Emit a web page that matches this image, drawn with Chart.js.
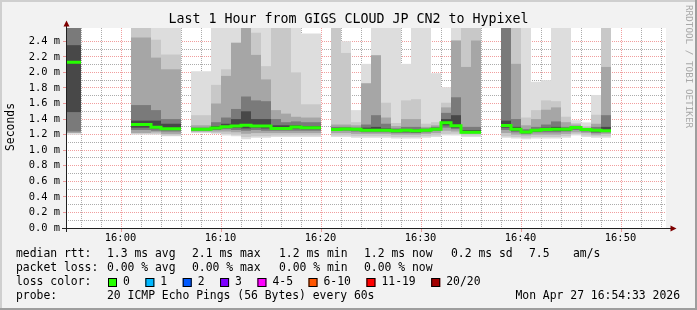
<!DOCTYPE html>
<html>
<head>
<meta charset="utf-8">
<script src="https://cdn.jsdelivr.net/npm/chart.js@4/dist/chart.umd.min.js"></script>
<style>
  html, body { margin: 0; padding: 0; background: #f2f2f2; }
  canvas { display: block; }
</style>
</head>
<body>
<canvas id="chart" width="697" height="310"></canvas>
<script>
// one column per minute, offset in minutes from 16:00
const minutes = [-6, -5, -4, -3, -2, -1, 0, 1, 2, 3, 4, 5, 6, 7, 8, 9, 10, 11, 12, 13, 14, 15, 16, 17, 18, 19, 20,
  21, 22, 23, 24, 25, 26, 27, 28, 29, 30, 31, 32, 33, 34, 35, 36, 37, 38, 39, 40, 41, 42, 43, 44, 45, 46, 47, 48];

// median rtt (ms)
const median = [2.13, 2.13, null, null, null, null, null,
  1.33, 1.33, 1.294, 1.277, 1.277, null,
  1.27, 1.27, 1.285, 1.30, 1.31, 1.322, 1.31, 1.31, 1.28, 1.28, 1.297, 1.288, 1.288, null,
  1.267, 1.272, 1.27, 1.258, 1.258, 1.258, 1.25, 1.256, 1.25, 1.258, 1.27, 1.352, 1.313, 1.232, 1.232, null, null,
  1.318, 1.27, 1.234, 1.258, 1.266, 1.268, 1.27, 1.293, 1.266, 1.258, 1.25];

// smoke bands (ms), outer band first: low / high edge
const minRtt = [1.20, 1.20, null, null, null, null, null,
  1.20, 1.20, 1.20, 1.18, 1.18, null,
  1.22, 1.22, 1.21, 1.19, 1.18, 1.14, 1.16, 1.16, 1.17, 1.17, 1.17, 1.17, 1.17, null,
  1.17, 1.17, 1.16, 1.16, 1.16, 1.16, 1.15, 1.15, 1.15, 1.16, 1.17, 1.19, 1.19, 1.17, 1.17, null, null,
  1.16, 1.15, 1.14, 1.15, 1.15, 1.15, 1.16, 1.19, 1.17, 1.16, 1.16];
const maxRtt = [2.7, 2.7, null, null, null, null, null,
  2.7, 2.7, 2.7, 2.7, 2.7, null,
  2.015, 2.015, 2.7, 2.7, 2.7, 2.7, 2.7, 2.7, 2.7, 2.7, 2.7, 2.50, 2.50, null,
  2.7, 2.40, 1.515, 2.11, 2.7, 2.7, 2.7, 2.11, 2.7, 2.7, 1.99, 1.81, 2.7, 2.7, 2.7, null, null,
  2.7, 2.7, 2.7, 1.88, 1.90, 2.7, 2.7, 1.386, 1.357, 1.71, 2.7];

const lo2 = [1.22, 1.22, null, null, null, null, null,
  1.21, 1.21, 1.21, 1.19, 1.19, null,
  1.23, 1.23, 1.22, 1.21, 1.20, 1.17, 1.18, 1.18, 1.19, 1.19, 1.19, 1.19, 1.19, null,
  1.19, 1.19, 1.18, 1.18, 1.18, 1.18, 1.17, 1.17, 1.17, 1.18, 1.19, 1.21, 1.21, 1.19, 1.19, null, null,
  1.18, 1.17, 1.16, 1.17, 1.17, 1.17, 1.18, 1.21, 1.19, 1.18, 1.18];
const hi2 = [2.7, 2.7, null, null, null, null, null,
  2.7, 2.7, 2.42, 2.23, 2.23, null,
  1.45, 1.45, 1.84, 2.04, 2.38, 2.7, 2.51, 2.08, 2.7, 2.7, 2.0, 1.59, 1.59, null,
  2.7, 2.25, 1.36, 1.86, 2.22, 1.61, 1.35, 1.64, 1.656, 1.34, 1.36, 1.61, 2.41, 2.7, 2.7, null, null,
  2.7, 2.7, 1.42, 1.515, 1.64, 1.63, 1.43, 1.35, 1.31, 1.455, 2.7];

const lo3 = [1.22, 1.22, null, null, null, null, null,
  1.22, 1.22, 1.23, 1.21, 1.21, null,
  1.24, 1.24, 1.24, 1.24, 1.23, 1.21, 1.22, 1.22, 1.22, 1.22, 1.22, 1.22, 1.22, null,
  1.22, 1.22, 1.21, 1.21, 1.21, 1.21, 1.20, 1.20, 1.20, 1.21, 1.22, 1.25, 1.24, 1.21, 1.21, null, null,
  1.22, 1.20, 1.19, 1.20, 1.20, 1.20, 1.21, 1.23, 1.22, 1.20, 1.21];
const hi3 = [2.7, 2.7, null, null, null, null, null,
  2.45, 2.45, 2.19, 2.04, 2.04, null,
  1.32, 1.32, 1.60, 1.955, 2.38, 2.7, 2.225, 1.91, 1.515, 1.47, 1.43, 1.42, 1.42, null,
  1.33, 1.33, 1.32, 1.86, 2.22, 1.42, 1.31, 1.40, 1.40, 1.30, 1.32, 1.55, 2.41, 2.07, 2.41, null, null,
  2.7, 2.11, 1.32, 1.40, 1.52, 1.55, 1.36, 1.33, 1.29, 1.34, 2.07];

const lo4 = [1.24, 1.24, null, null, null, null, null,
  1.26, 1.26, 1.25, 1.24, 1.24, null,
  1.25, 1.25, 1.26, 1.27, 1.26, 1.25, 1.26, 1.25, 1.25, 1.25, 1.25, 1.25, 1.25, null,
  1.25, 1.25, 1.24, 1.23, 1.23, 1.23, 1.22, 1.22, 1.22, 1.23, 1.25, 1.29, 1.27, 1.22, 1.22, null, null,
  1.26, 1.23, 1.21, 1.23, 1.23, 1.23, 1.24, 1.26, 1.24, 1.22, 1.23];
const hi4 = [2.7, 2.7, null, null, null, null, null,
  1.58, 1.58, 1.515, 1.40, 1.40, null,
  1.29, 1.29, 1.36, 1.42, 1.53, 1.69, 1.64, 1.63, 1.40, 1.36, 1.37, 1.36, 1.36, null,
  1.30, 1.30, 1.29, 1.33, 1.45, 1.34, 1.28, 1.30, 1.30, 1.28, 1.30, 1.48, 1.68, 1.30, 1.30, null, null,
  2.7, 1.40, 1.27, 1.30, 1.33, 1.37, 1.30, 1.31, 1.28, 1.30, 1.45];

const lo5 = [1.49, 1.49, null, null, null, null, null,
  1.29, 1.29, 1.28, 1.26, 1.26, null,
  1.26, 1.26, 1.27, 1.29, 1.29, 1.28, 1.29, 1.28, 1.27, 1.27, 1.28, 1.27, 1.27, null,
  1.26, 1.26, 1.26, 1.25, 1.25, 1.25, 1.24, 1.24, 1.23, 1.25, 1.26, 1.32, 1.29, 1.23, 1.23, null, null,
  1.29, 1.25, 1.22, 1.24, 1.25, 1.25, 1.25, 1.28, 1.26, 1.24, 1.24];
const hi5 = [2.35, 2.35, null, null, null, null, null,
  1.38, 1.38, 1.38, 1.34, 1.34, null,
  1.28, 1.28, 1.31, 1.34, 1.40, 1.50, 1.40, 1.40, 1.32, 1.32, 1.32, 1.31, 1.31, null,
  1.28, 1.285, 1.28, 1.29, 1.30, 1.28, 1.265, 1.27, 1.265, 1.27, 1.285, 1.40, 1.45, 1.26, 1.26, null, null,
  1.38, 1.30, 1.25, 1.27, 1.29, 1.30, 1.285, 1.30, 1.28, 1.27, 1.30];

const yTickValues = [0, 0.2, 0.4, 0.6, 0.8, 1.0, 1.2, 1.4, 1.6, 1.8, 2.0, 2.2, 2.4];
const xTickMinutes = [0, 10, 20, 30, 40, 50];
const xTickLabels = ['16:00', '16:10', '16:20', '16:30', '16:40', '16:50'];
// vertical grid every 2 minutes
const xGridMinutes = [-4, -2, 0, 2, 4, 6, 8, 10, 12, 14, 16, 18, 20, 22, 24, 26, 28, 30,
  32, 34, 36, 38, 40, 42, 44, 46, 48, 50, 52, 54];

const rttStats = ['1.3 ms avg', '2.1 ms max', '1.2 ms min', '1.2 ms now', '0.2 ms sd', '7.5', 'am/s'];
const lossStats = ['0.00 % avg', '0.00 % max', '0.00 % min', '0.00 % now'];
const lossLabels = ['0', '1', '2', '3', '4-5', '6-10', '11-19', '20/20'];
const lossColors = ['#26ff00', '#00b8ff', '#0059ff', '#7e00ff', '#ff00ff', '#ff5500', '#ff0000', '#a10000'];

const MONO = '"DejaVu Sans Mono", monospace';
const Y_MAX = 2.5707;
const MAJOR = 'rgba(225, 40, 40, 0.45)';
const MINOR = 'rgba(90, 90, 90, 0.5)';

function bandData(lo, hi) {
  const pts = [];
  minutes.forEach((m, i) => {
    if (lo[i] == null || hi[i] == null) return;
    pts.push({ x: m * 60 + 30, y: [lo[i], hi[i]] });
  });
  return pts;
}

function medianData() {
  const pts = [];
  minutes.forEach((m, i) => {
    if (median[i] == null) {
      pts.push({ x: m * 60, y: null });
      return;
    }
    pts.push({ x: m * 60, y: median[i] });
    pts.push({ x: m * 60 + 60, y: median[i] });
  });
  return pts;
}

const bands = [
  { lo: minRtt, hi: maxRtt, color: '#dddddd' },
  { lo: lo2, hi: hi2, color: '#c8c8c8' },
  { lo: lo3, hi: hi3, color: '#a6a6a6' },
  { lo: lo4, hi: hi4, color: '#7a7a7a' },
  { lo: lo5, hi: hi5, color: '#484848' },
];

const datasets = bands.map((b, i) => ({
  type: 'bar',
  data: bandData(b.lo, b.hi),
  backgroundColor: b.color,
  borderWidth: 0,
  barThickness: 10,
  grouped: false,
  inflateAmount: 0,
  order: 10 - i,
  clip: 0,
}));

datasets.push({
  type: 'line',
  data: medianData(),
  borderColor: '#26ff00',
  borderWidth: 3,
  pointRadius: 0,
  tension: 0,
  spanGaps: false,
  order: 0,
  clip: 0,
});

const decor = {
  id: 'decor',
  beforeDraw(chart) {
    const c = chart.ctx;
    const a = chart.chartArea;
    c.save();
    c.fillStyle = '#f2f2f2';
    c.fillRect(0, 0, 697, 310);
    c.fillStyle = '#cfcfcf';
    c.fillRect(0, 0, 697, 2);
    c.fillRect(0, 0, 2, 310);
    c.fillStyle = '#9e9e9e';
    c.fillRect(0, 308, 697, 2);
    c.fillRect(695, 0, 2, 310);
    c.fillStyle = '#ffffff';
    c.fillRect(a.left, a.top, a.right - a.left, a.bottom - a.top);
    c.restore();
  },
  afterDraw(chart) {
    const c = chart.ctx;
    const x = chart.scales.x;
    const y = chart.scales.y;
    c.save();

    // small ticks at major grid lines
    c.strokeStyle = MAJOR;
    c.lineWidth = 1;
    yTickValues.forEach((v) => {
      const py = Math.round(y.getPixelForValue(v) - 0.5) + 0.5;
      c.beginPath(); c.moveTo(63, py); c.lineTo(66, py); c.stroke();
    });
    xTickMinutes.forEach((m) => {
      const px = Math.round(x.getPixelForValue(m * 60) - 0.5) + 0.5;
      c.beginPath(); c.moveTo(px, 229); c.lineTo(px, 232); c.stroke();
    });

    // axes
    c.strokeStyle = '#202020';
    c.beginPath(); c.moveTo(62, 228.5); c.lineTo(671, 228.5); c.stroke();
    c.beginPath(); c.moveTo(66.5, 232); c.lineTo(66.5, 25); c.stroke();
    c.fillStyle = '#7f0000';
    c.beginPath(); c.moveTo(63.5, 26.5); c.lineTo(69.5, 26.5); c.lineTo(66.5, 20.5); c.closePath(); c.fill();
    c.beginPath(); c.moveTo(670.5, 225.5); c.lineTo(670.5, 231.5); c.lineTo(676.5, 228.5); c.closePath(); c.fill();

    // tick labels
    c.fillStyle = '#000000';
    c.font = '10.4px ' + MONO;
    c.textBaseline = 'middle';
    c.textAlign = 'right';
    yTickValues.forEach((v) => c.fillText(v.toFixed(1) + ' m', 60, y.getPixelForValue(v)));
    c.textAlign = 'center';
    xTickMinutes.forEach((m, i) => c.fillText(xTickLabels[i], x.getPixelForValue(m * 60) - 0.5, 238));

    // title
    c.font = '13.3px ' + MONO;
    c.fillText('Last 1 Hour from GIGS CLOUD JP CN2 to Hypixel', 348.5, 19.5);

    // y axis title
    c.save();
    c.translate(11, 127);
    c.rotate(-Math.PI / 2);
    c.font = '11.4px ' + MONO;
    c.fillText('Seconds', 0, 0);
    c.restore();

    // legend
    const rows = [254.5, 268.5, 282.5, 296.5];
    c.font = '11.4px ' + MONO;
    c.textAlign = 'left';
    c.fillText('median rtt:', 16, rows[0]);
    [107, 192, 279, 364, 451, 529, 573].forEach((px, i) => c.fillText(rttStats[i], px, rows[0]));
    c.fillText('packet loss:', 16, rows[1]);
    [107, 192, 279, 364].forEach((px, i) => c.fillText(lossStats[i], px, rows[1]));
    c.fillText('loss color:', 16, rows[2]);
    let lx = 108;
    lossLabels.forEach((lab, i) => {
      c.fillStyle = lossColors[i];
      c.fillRect(lx, 278, 9, 9);
      c.strokeStyle = '#000000';
      c.strokeRect(lx + 0.5, 278.5, 8, 8);
      c.fillStyle = '#000000';
      c.fillText(lab, lx + 15, rows[2]);
      lx += 15 + c.measureText(lab).width + 15.5;
    });
    c.fillText('probe:', 16, rows[3]);
    c.fillText('20 ICMP Echo Pings (56 Bytes) every 60s', 107, rows[3]);
    c.textAlign = 'right';
    c.fillText('Mon Apr 27 16:54:33 2026', 680, rows[3]);

    // watermark
    c.save();
    c.translate(688, 5);
    c.rotate(Math.PI / 2);
    c.font = '9.3px ' + MONO;
    c.fillStyle = '#a8a8a8';
    c.textAlign = 'left';
    c.fillText('RRDTOOL / TOBI OETIKER', 0, 0);
    c.restore();

    c.restore();
  },
};

function gridColorX(ctx) {
  const v = ctx.tick && ctx.tick.value;
  if (v == null) return 'rgba(0,0,0,0)';
  return v % 600 === 0 ? MAJOR : MINOR;
}

function gridColorY(ctx) {
  const v = ctx.tick && ctx.tick.value;
  if (v == null) return 'rgba(0,0,0,0)';
  const r = v * 10;
  const n = Math.round(r);
  if (Math.abs(r - n) > 1e-6 || n === 0) return 'rgba(0,0,0,0)';
  return n % 2 === 0 ? MAJOR : MINOR;
}

const ctx = document.getElementById('chart').getContext('2d');
new Chart(ctx, {
  type: 'bar',
  data: { datasets },
  options: {
    responsive: false,
    animation: false,
    devicePixelRatio: 1,
    layout: { padding: { left: 66, top: 28, right: 31, bottom: 82 } },
    plugins: {
      legend: { display: false },
      tooltip: { enabled: false },
    },
    scales: {
      x: {
        type: 'linear',
        min: -330,
        max: 3270,
        offset: false,
        z: 1,
        afterBuildTicks: (scale) => {
          scale.ticks = xGridMinutes.map((m) => ({ value: m * 60 }));
        },
        ticks: { display: false },
        grid: { color: gridColorX, drawTicks: false, offset: false, lineWidth: 1 },
        border: { display: false, dash: [1, 1] },
      },
      y: {
        type: 'linear',
        min: 0,
        max: Y_MAX,
        z: 1,
        ticks: { display: false, stepSize: 0.1, maxTicksLimit: 1000 },
        grid: { color: gridColorY, drawTicks: false, lineWidth: 1 },
        border: { display: false, dash: [1, 1] },
      },
    },
  },
  plugins: [decor],
});
</script>
</body>
</html>
